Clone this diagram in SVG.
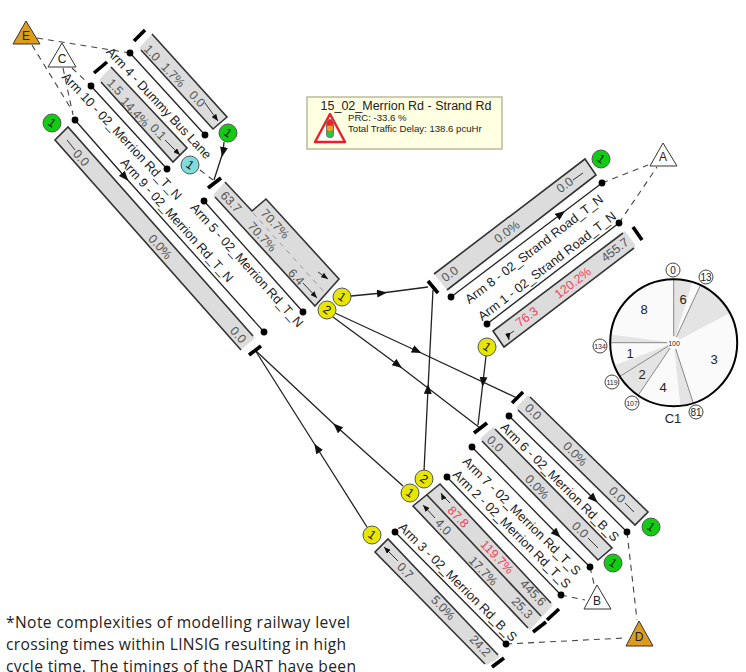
<svg xmlns="http://www.w3.org/2000/svg" width="746" height="672" viewBox="0 0 746 672">
<style>
text{font-family:"Liberation Sans",Arial,sans-serif;dominant-baseline:central;text-anchor:middle}
.bar{fill:#dcdcdc;stroke:none}
.edge{fill:none;stroke:#333;stroke-width:1.6}
.stop{stroke:#000;stroke-width:3.6;fill:none}
.link{stroke:#222;stroke-width:1.3;fill:none}
.route{stroke:#222;stroke-width:1.3;fill:none;marker-mid:url(#h)}
.tick{stroke:#333;stroke-width:1;fill:none}
.dash{stroke:#444;stroke-width:1.1;stroke-dasharray:6 5;fill:none}
.dot{fill:#000}
.lab{font-size:12.8px;fill:#222}
.val{font-size:12.4px;fill:#555}
.red{font-size:12.4px;fill:#f2405a}
.num{font-size:12px;fill:#111}
.circ{stroke:#555;stroke-width:1}
.g{fill:#11cc11}.y{fill:#e6e600}.c{fill:#80dcdc}
.tri{stroke:#333;stroke-width:1;fill:#fff}
.amber{fill:#dc9c20}
.tl{font-size:12px;fill:#222}
.ph{font-size:13px;fill:#222}
.ring{fill:#fff;stroke:#444;stroke-width:1}
.small{font-size:7px;fill:#222}
.wedge{fill:#e4e4e4}
.ray{stroke:#888;stroke-width:1}
.note{font-family:"Open Sans",sans-serif;font-size:15.6px;fill:#222;text-anchor:start}
</style>
<defs>
<marker id="h" viewBox="0 0 10 8" refX="5" refY="4" markerWidth="10" markerHeight="8" markerUnits="userSpaceOnUse" orient="auto"><path d="M0 0L10 4L0 8Z" fill="#111"/></marker>
<marker id="e" viewBox="0 0 10 8" refX="10" refY="4" markerWidth="7" markerHeight="5.5" markerUnits="userSpaceOnUse" orient="auto"><path d="M0 0L10 4L0 8Z" fill="#111"/></marker>
</defs>

<g id="connectors">
<path class="dash" d="M37 38L130 53M32 45L73 112M72 68L91 86M63 68L73 115M200 170L213 180"/>
<path class="dash" d="M602 183L648 165M619 223L657 167M590 567L595 588M561 595L585 600M627 532L637 620M506 644L625 638"/>
<path class="route" d="M224 142L223 152L214 180"/>
<path class="route" d="M351 296L382 293L428 287"/>
<path class="route" d="M335 313L417 351L517 398"/>
<path class="route" d="M333 317L398 365L480 428"/>
<path class="route" d="M424 471L428 389L433 290"/>
<path class="route" d="M403 486L337 427L255 350"/>
<path class="route" d="M367 527L317 448L255 350"/>
<path class="route" d="M486 356L483 382L478 425"/>
</g>

<g id="arm4">
<polygon class="bar" points="139,48 152,34 227,117 213,129"/><path class="edge" d="M152 34L227 117L213 129L141 50"/>
<path class="stop" d="M134 41L145 30"/><path class="link" d="M130 53L205 135"/><circle class="dot" cx="130" cy="53" r="3.4"/><circle class="dot" cx="205" cy="135" r="3.4"/>
<path class="tick" d="M205 103L218 121" marker-end="url(#e)"/>
<text class="val" x="152" y="53" transform="rotate(47 152 53)">1.0</text><text class="val" x="173" y="75" transform="rotate(47 173 75)">1.7%</text><text class="val" x="197" y="99" transform="rotate(47 197 99)">0.0</text>
<text class="lab" x="159" y="103" transform="rotate(47 159 103)">Arm 4 - Dummy Bus Lane</text>
</g>
<g id="arm10">
<polygon class="bar" points="99,80 111,67 187,148 173,162"/><path class="edge" d="M111 67L187 148L173 162L101 82"/>
<path class="stop" d="M94 73L107 62"/><path class="link" d="M91 86L167 169"/><circle class="dot" cx="91" cy="86" r="3.4"/><circle class="dot" cx="167" cy="169" r="3.4"/>
<path class="tick" d="M165 140L180 155" marker-end="url(#e)"/>
<text class="val" x="115" y="87" transform="rotate(47 115 87)">1.5</text><text class="val" x="135" y="112" transform="rotate(47 135 112)">14.4%</text><text class="val" x="158" y="132" transform="rotate(47 158 132)">0.1</text>
<text class="lab" x="122" y="136" transform="rotate(47 122 136)">Arm 10 - 02_Merrion Rd_T_N</text>
</g>
<g id="arm9">
<polygon class="bar" points="68,127 55,140 241,350 255,338"/><path class="edge" d="M253 336L68 127L55 140L241 350"/>
<path class="stop" d="M249 355L261 346"/><path class="route" d="M75 120L125 177L264 332"/><circle class="dot" cx="75" cy="120" r="3.4"/><circle class="dot" cx="264" cy="332" r="3.4"/>
<path class="tick" d="M67 140L75 150"/>
<text class="val" x="81" y="158" transform="rotate(48 81 158)">0.0</text><text class="val" x="160" y="247" transform="rotate(48 160 247)">0.0%</text><text class="val" x="238" y="335" transform="rotate(48 238 335)">0.0</text>
<text class="lab" x="177" y="220" transform="rotate(48 177 220)">Arm 9 - 02_Merrion Rd_T_N</text>
</g>
<g id="arm5">
<polygon class="bar" points="225,182 252,211 266,199 339,279 315,306 213,195"/><path class="edge" d="M225 182L252 211L266 199L339 279L315 306L215 197"/>
<path class="stop" d="M208 188L221 178"/><path class="link" d="M204 201L303 312"/><circle class="dot" cx="204" cy="201" r="3.4"/><circle class="dot" cx="303" cy="312" r="3.4"/>
<path d="M253 213L325 293" stroke="#999" stroke-width="1" stroke-dasharray="5 5" fill="none"/>
<path class="tick" d="M318 272L328 279" marker-end="url(#e)"/><path class="tick" d="M303 283L317 298" marker-end="url(#e)"/>
<text class="val" x="231" y="202" transform="rotate(47 231 202)">63.7</text><text class="val" x="275" y="224" transform="rotate(47 275 224)">70.7%</text><text class="val" x="262" y="237" transform="rotate(47 262 237)">70.7%</text><text class="val" x="296" y="277" transform="rotate(47 296 277)">6.4</text>
<text class="lab" x="247" y="265" transform="rotate(48 247 265)">Arm 5 - 02_Merrion Rd_T_N</text>
</g>
<g id="arm8">
<polygon class="bar" points="434,274 585,159 596,175 447,290"/><path class="edge" d="M434 274L585 159L596 175L447 290"/>
<path class="stop" d="M428 281L438 293"/><path class="route" d="M451 297L561 214L602 183"/><circle class="dot" cx="451" cy="297" r="3.4"/><circle class="dot" cx="602" cy="183" r="3.4"/>
<path class="tick" d="M573 180L583 173"/>
<text class="val" x="450" y="274" transform="rotate(-37.5 450 274)">0.0</text><text class="val" x="507" y="232" transform="rotate(-37.5 507 232)">0.0%</text><text class="val" x="565" y="185" transform="rotate(-37.5 565 185)">0.0</text>
<text class="lab" x="534" y="249" transform="rotate(-37.5 534 249)">Arm 8 - 02_Strand Road_T_N</text>
</g>
<g id="arm1">
<polygon class="bar" points="625,231 493,331 504,347 636,246"/><path class="edge" d="M623 233L493 331L504 347L634 248"/>
<path class="stop" d="M633 227L642 240"/><path class="link" d="M487 324L619 223"/><circle class="dot" cx="487" cy="324" r="3.4"/><circle class="dot" cx="619" cy="223" r="3.4"/>
<path class="tick" d="M514 331L508 335L509 340" marker-end="url(#e)"/>
<text class="red" x="527" y="317" transform="rotate(-37.5 527 317)">76.3</text><text class="red" x="573" y="283" transform="rotate(-37.5 573 283)">120.2%</text><text class="val" x="615" y="250" transform="rotate(-37.5 615 250)">455.7</text>
<text class="lab" x="547" y="266" transform="rotate(-37.5 547 266)">Arm 1 - 02_Strand Road_T_N</text>
</g>
<g id="arm6">
<polygon class="bar" points="528,395 648,512 635,525 516,408"/><path class="edge" d="M530 397L648 512L635 525L518 410"/>
<path class="stop" d="M512 403L523 392"/><path class="route" d="M509 416L594 499L627 532"/><circle class="dot" cx="509" cy="416" r="3.4"/><circle class="dot" cx="627" cy="532" r="3.4"/>
<path class="tick" d="M625 503L634 512"/>
<text class="val" x="533" y="412" transform="rotate(45 533 412)">0.0</text><text class="val" x="575" y="454" transform="rotate(45 575 454)">0.0%</text><text class="val" x="617" y="495" transform="rotate(45 617 495)">0.0</text>
<text class="lab" x="560" y="482" transform="rotate(45 560 482)">Arm 6 - 02_Merrion Rd_B_S</text>
</g>
<g id="arm7">
<polygon class="bar" points="493,427 612,548 598,560 480,439"/><path class="edge" d="M495 429L612 548L598 560L482 441"/>
<path class="stop" d="M474 433L487 423"/><path class="route" d="M472 447L557 534L590 567"/><circle class="dot" cx="472" cy="447" r="3.4"/><circle class="dot" cx="590" cy="567" r="3.4"/>
<path class="tick" d="M588 538L598 548"/>
<text class="val" x="495" y="444" transform="rotate(45 495 444)">0.0</text><text class="val" x="537" y="487" transform="rotate(45 537 487)">0.0%</text><text class="val" x="580" y="530" transform="rotate(45 580 530)">0.0</text>
<text class="lab" x="522" y="516" transform="rotate(45 522 516)">Arm 7 - 02_Merrion Rd_T_S</text>
</g>
<g id="arm2">
<polygon class="bar" points="440,484 553,605 530,630 413,506"/><path class="edge" d="M551 603L440 484L413 506L528 628M427 495L541 616"/>
<path class="stop" d="M533 632L546 622M547 620L559 609"/><path class="link" d="M447 477L561 595"/><circle class="dot" cx="447" cy="477" r="3.4"/><circle class="dot" cx="561" cy="595" r="3.4"/>
<path class="tick" d="M450 503L442 495L441 493" marker-end="url(#e)"/><path class="tick" d="M435 518L423 505" marker-end="url(#e)"/>
<text class="red" x="458" y="517" transform="rotate(46 458 517)">87.8</text><text class="red" x="497" y="557" transform="rotate(46 497 557)">119.7%</text><text class="val" x="533" y="593" transform="rotate(46 533 593)">445.6</text>
<text class="val" x="443" y="527" transform="rotate(46 443 527)">4.0</text><text class="val" x="483" y="571" transform="rotate(46 483 571)">17.7%</text><text class="val" x="522" y="608" transform="rotate(46 522 608)">25.3</text>
<text class="lab" x="512" y="529" transform="rotate(45 512 529)">Arm 2 - 02_Merrion Rd_T_S</text>
</g>
<g id="arm3">
<polygon class="bar" points="388,539 500,657 487,665 375,552"/><path class="edge" d="M498 655L388 539L375 552L485 664"/>
<path class="stop" d="M492 667L504 658"/><path class="link" d="M395 532L506 644"/><circle class="dot" cx="395" cy="532" r="3.4"/><circle class="dot" cx="506" cy="644" r="3.4"/>
<path class="tick" d="M398 561L384 547" marker-end="url(#e)"/>
<text class="val" x="405" y="571" transform="rotate(46 405 571)">0.7</text><text class="val" x="443" y="608" transform="rotate(46 443 608)">5.0%</text><text class="val" x="480" y="646" transform="rotate(46 480 646)">24.2</text>
<text class="lab" x="458" y="582" transform="rotate(45 458 582)">Arm 3 - 02_Merrion Rd_B_S</text>
</g>

<g id="node-E"><polygon class="tri amber" points="26,21 40,44 13,44"/><text class="tl" x="26" y="36">E</text></g>
<g id="node-C"><polygon class="tri" points="62,43 76,67 48,67"/><text class="tl" x="62" y="59">C</text></g>
<g id="node-A"><polygon class="tri" points="663,143 677,166 650,166"/><text class="tl" x="663" y="157">A</text></g>
<g id="node-B"><polygon class="tri" points="597,585 611,609 584,609"/><text class="tl" x="597" y="601">B</text></g>
<g id="node-D"><polygon class="tri amber" points="639,621 653,646 626,646"/><text class="tl" x="639" y="637">D</text></g>

<g id="sig-g1"><circle class="circ g" cx="52" cy="123" r="9"/><text class="num" x="52" y="123" transform="rotate(35 52 123)">1</text></g>
<g id="sig-g2"><circle class="circ g" cx="228" cy="133" r="9"/><text class="num" x="228" y="133" transform="rotate(35 228 133)">1</text></g>
<g id="sig-c1"><circle class="circ c" cx="190" cy="165" r="9"/><text class="num" x="190" y="165" transform="rotate(35 190 165)">1</text></g>
<g id="sig-g3"><circle class="circ g" cx="601" cy="159" r="9"/><text class="num" x="601" y="159" transform="rotate(35 601 159)">1</text></g>
<g id="sig-g4"><circle class="circ g" cx="651" cy="527" r="9"/><text class="num" x="651" y="527" transform="rotate(35 651 527)">1</text></g>
<g id="sig-g5"><circle class="circ g" cx="613" cy="563" r="9"/><text class="num" x="613" y="563" transform="rotate(35 613 563)">1</text></g>
<g id="sig-y1"><circle class="circ y" cx="342" cy="297" r="9"/><text class="num" x="342" y="297" transform="rotate(35 342 297)">1</text></g>
<g id="sig-y2"><circle class="circ y" cx="327" cy="310" r="9"/><text class="num" x="327" y="310" transform="rotate(35 327 310)">2</text></g>
<g id="sig-y3"><circle class="circ y" cx="487" cy="347" r="9"/><text class="num" x="487" y="347" transform="rotate(35 487 347)">1</text></g>
<g id="sig-y4"><circle class="circ y" cx="424" cy="479" r="9"/><text class="num" x="424" y="479" transform="rotate(35 424 479)">2</text></g>
<g id="sig-y5"><circle class="circ y" cx="410" cy="493" r="9"/><text class="num" x="410" y="493" transform="rotate(35 410 493)">1</text></g>
<g id="sig-y6"><circle class="circ y" cx="372" cy="535" r="9"/><text class="num" x="372" y="535" transform="rotate(35 372 535)">1</text></g>

<g id="title-box">
<rect x="307" y="97" width="195" height="52" fill="#ffffe1" stroke="#a9a98a" stroke-width="1.2"/>
<text x="406" y="105.500" font-size="12.500" fill="#222">15_02_Merrion Rd - Strand Rd</text>
<polygon points="330,114 345,142 315,142" fill="#fff" stroke="#ee1c25" stroke-width="2.400" stroke-linejoin="round"/>
<rect x="326" y="119" width="8" height="19" rx="4" fill="#777"/>
<circle cx="330" cy="123" r="3" fill="#ee2222"/><circle cx="330" cy="128.500" r="3" fill="#f0a020"/><circle cx="330" cy="134" r="3" fill="#22cc44"/>
<text x="348" y="117" font-size="9.600" fill="#222" style="text-anchor:start">PRC: -33.6 %</text>
<text x="348" y="128" font-size="9.600" fill="#222" style="text-anchor:start">Total Traffic Delay: 138.6 pcuHr</text>
</g>

<g id="cycle-C1">
<circle cx="673.700" cy="342.700" r="63.500" fill="#fafafa"/>
<path class="wedge" d="M673.700 342.700L673.700 279.200A63.500 63.500 0 0 1 692.300 282Z"/>
<path class="wedge" d="M673.700 342.700L700.500 285.100A63.500 63.500 0 0 1 729.800 312.900Z"/>
<path class="wedge" d="M673.700 342.700L693.300 403.100A63.500 63.500 0 0 1 680.300 405.900Z"/>
<path class="wedge" d="M673.700 342.700L638.200 395.300A63.500 63.500 0 0 1 619.800 376.400Z"/>
<path class="wedge" d="M673.700 342.700L619.800 376.400A63.500 63.500 0 0 1 614.400 365.500Z"/>
<path class="wedge" d="M673.700 342.700L610.200 342.700A63.500 63.500 0 0 1 610.800 334.500Z"/>
<path class="ray" d="M673.700 342.700V279.200M673.700 342.700L700.500 285.100M673.700 342.700L693.300 403.100M673.700 342.700L638.200 395.300M673.700 342.700L619.800 376.400M673.700 342.700H610.200"/>
<circle cx="673.700" cy="342.700" r="6.500" fill="#fff"/>
<circle cx="673.700" cy="342.700" r="63.500" fill="none" stroke="#000" stroke-width="2"/>
<text class="small" x="674" y="343">100</text>
<circle class="ring" cx="673" cy="270" r="7"/><text x="673" y="270" font-size="10" fill="#222">0</text>
<circle class="ring" cx="706" cy="277" r="7"/><text x="706" y="277" font-size="10" fill="#222">13</text>
<circle class="ring" cx="696" cy="412" r="7"/><text x="696" y="412" font-size="10" fill="#222">81</text>
<circle class="ring" cx="632" cy="403" r="7"/><text class="small" x="632" y="403">107</text>
<circle class="ring" cx="612" cy="382" r="7"/><text class="small" x="612" y="382">119</text>
<circle class="ring" cx="600" cy="346" r="7"/><text class="small" x="600" y="346">134</text>
<text class="ph" x="644" y="309">8</text><text class="ph" x="683" y="299">6</text><text class="ph" x="714" y="359">3</text><text class="ph" x="630" y="353">1</text><text class="ph" x="642" y="374">2</text><text class="ph" x="663" y="387">4</text>
<text class="ph" x="673" y="418">C1</text>
</g>

<g id="note">
<text class="note" x="6" y="622" textLength="344" lengthAdjust="spacing">*Note complexities of modelling railway level</text>
<text class="note" x="6" y="644" textLength="340" lengthAdjust="spacing">crossing times within LINSIG resulting in high</text>
<text class="note" x="6" y="666" textLength="350" lengthAdjust="spacing">cycle time. The timings of the DART have been</text>
</g>
</svg>
